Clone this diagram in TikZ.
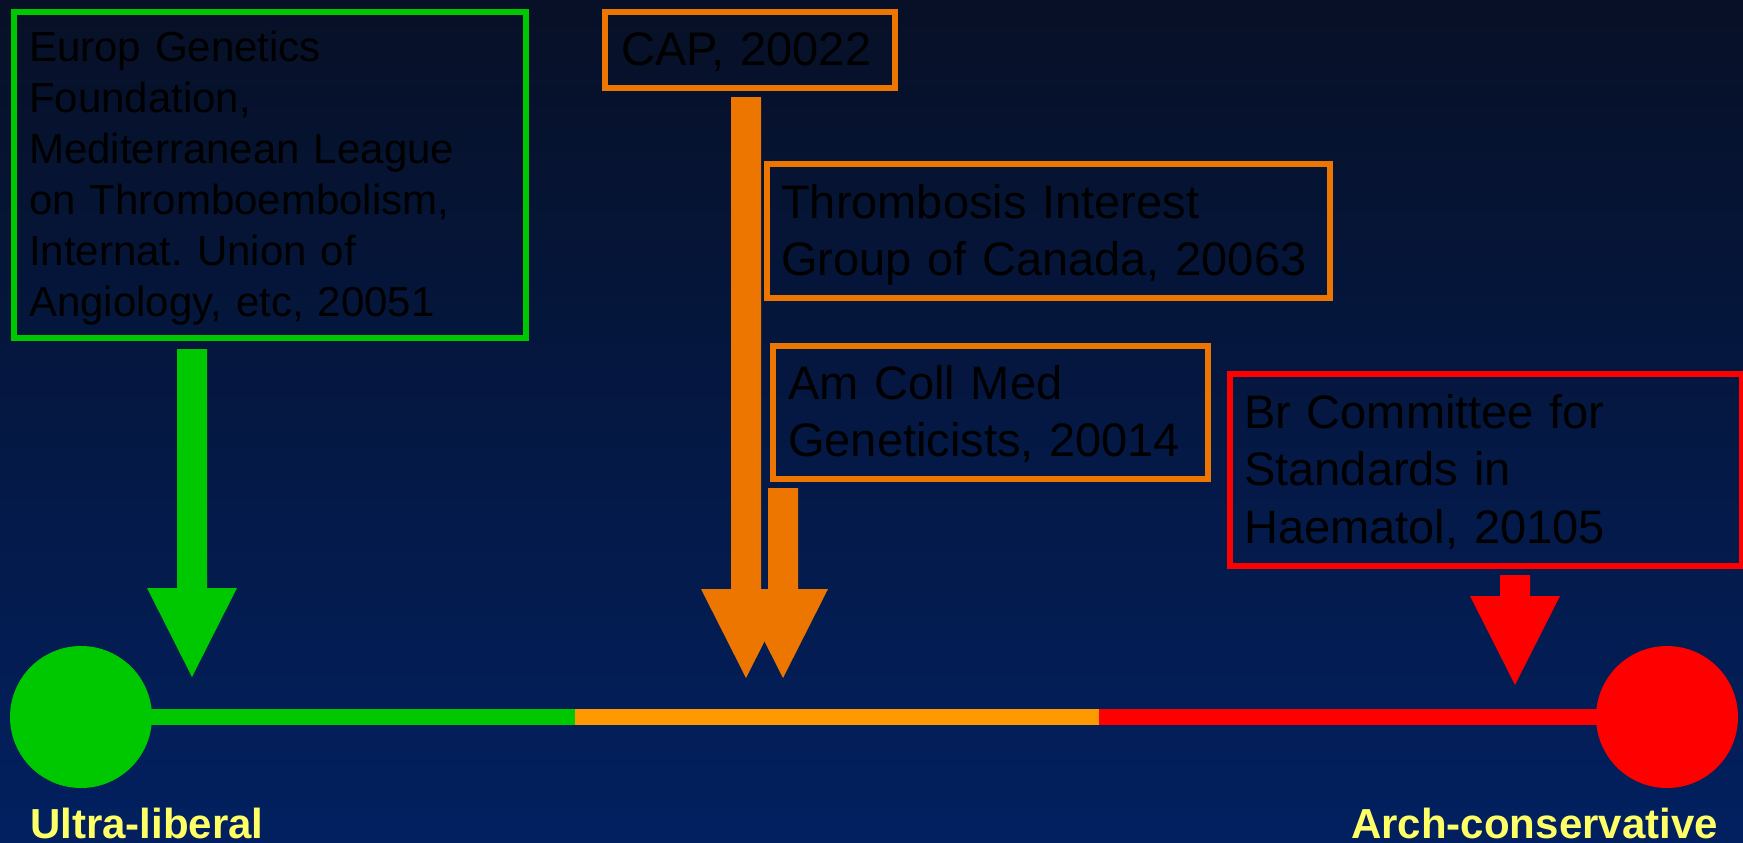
\documentclass[tikz,border=0pt]{standalone}
\usepackage{fontspec}
\setmainfont{Liberation Sans}
\usetikzlibrary{calc}
\frenchspacing
\definecolor{bgtop}{RGB}{7,16,38}
\definecolor{bgbot}{RGB}{2,32,96}
\definecolor{libgreen}{RGB}{0,200,0}
\definecolor{midorange}{RGB}{236,118,0}
\definecolor{lineorange}{RGB}{255,153,0}
\definecolor{conred}{RGB}{255,0,0}
\definecolor{tagyellow}{RGB}{255,255,102}
\def\fatarrow[#1](#2)(#3){\fill[#1] ($(#2)+(-15,0)$) -- ($(#3)+(-15,-89)$) -- ($(#3)+(-45,-89)$) -- (#3) -- ($(#3)+(45,-89)$) -- ($(#3)+(15,-89)$) -- ($(#2)+(15,0)$) -- cycle;}
\tikzset{
	panel/.style={draw=#1, line width=6pt, anchor=north west, inner sep=0pt},
	blurb/.style={anchor=base west, align=left, text width=540pt, inner sep=0pt, font=\fontsize{47}{57.5}\selectfont},
	pole/.style={circle, fill=#1, minimum size=142pt, inner sep=0pt},
	spanline/.style={draw=#1, line width=16pt},
	tag/.style={text=tagyellow, inner sep=0pt, font=\fontsize{42}{50}\selectfont\bfseries}
}
\begin{document}
\begin{tikzpicture}[x=1pt,y=-1pt]
			%%%%% START %%%%%
			\useasboundingbox (0,0) rectangle (1743,843);
			\shade[top color=bgtop, bottom color=bgbot] (0,0) rectangle (1743,843);
			
			% the scale
			\node[pole=libgreen] (lib) at (81,717) {};
			\node[pole=conred] (con) at (1667,717) {};
			\coordinate (g2o) at (575,717);
			\coordinate (o2r) at (1099,717);
			\draw[spanline=libgreen] (lib.center) -- (g2o);
			\draw[spanline=lineorange] (g2o) -- (o2r);
			\draw[spanline=conred] (o2r) -- (con.center);
			
			\node[tag, anchor=base west] (libtag) at (30,838) {Ultra-liberal};
			\node[tag, anchor=base east] (contag) at (1718,838) {Arch-conservative};
			
			% the boxes
			\node[panel=libgreen, minimum width=512pt, minimum height=326pt] (egf) at (11,9) {};
			\node[blurb, font=\fontsize{42}{51}\selectfont] (egftext) at (29,62) {Europ Genetics\\Foundation,\\Mediterranean League\\on Thromboembolism,\\Internat. Union of\\Angiology, etc, 20051};
			
			\node[panel=midorange, minimum width=290pt, minimum height=76pt] (cap) at (602,9) {};
			\node[blurb] (captext) at (621,66) {CAP, 20022};
			
			\node[panel=midorange, minimum width=563pt, minimum height=134pt] (tig) at (764,161) {};
			\node[blurb] (tigtext) at (781,218) {Thrombosis Interest\\Group of Canada, 20063};
			
			\node[panel=midorange, minimum width=435pt, minimum height=133pt] (acmg) at (770,343) {};
			\node[blurb] (acmgtext) at (788,399) {Am Coll Med\\Geneticists, 20014};
			
			\node[panel=conred, minimum width=512pt, minimum height=192pt] (bcsh) at (1227,371) {};
			\node[blurb] (bcshtext) at (1244,428) {Br Committee for\\Standards in\\Haematol, 20105};
			
			% the arrows
			\coordinate (egftip) at (192,677);
			\coordinate (captip) at (746,678);
			\coordinate (acmgtip) at (783,678);
			\coordinate (bcshtip) at (1515,685);
			\coordinate (egftop) at ($(egf.south -| egftip)+(0,8)$);
			\coordinate (captop) at ($(cap.south -| captip)+(0,6)$);
			\coordinate (acmgtop) at ($(acmg.south -| acmgtip)+(0,6)$);
			\coordinate (bcshtop) at ($(bcsh.south -| bcshtip)+(0,6)$);
			
			\fatarrow[libgreen](egftop)(egftip)
			\fatarrow[midorange](captop)(captip)
			\fatarrow[midorange](acmgtop)(acmgtip)
			\fatarrow[conred](bcshtop)(bcshtip)
			%%%%% END %%%%%
\end{tikzpicture}
\end{document}
